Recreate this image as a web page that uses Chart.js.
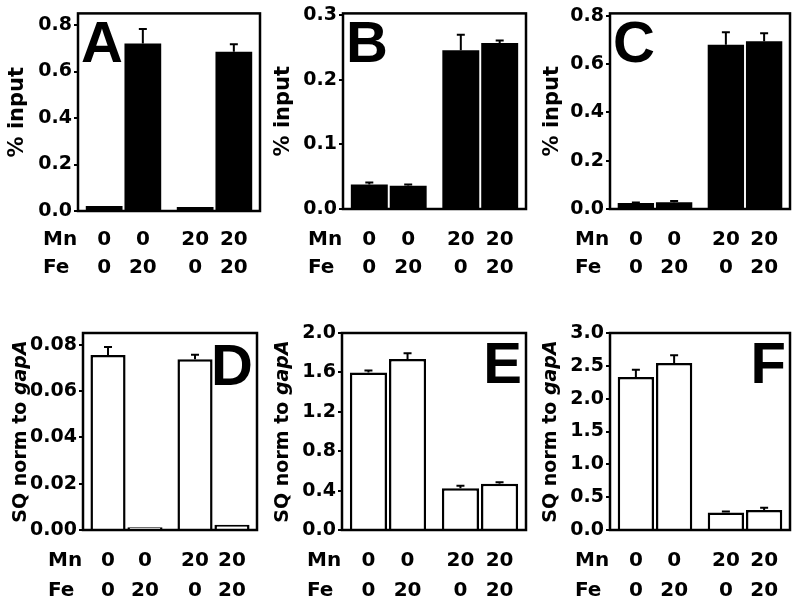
<!DOCTYPE html>
<html>
<head>
<meta charset="utf-8">
<script src="https://cdn.jsdelivr.net/npm/chart.js@4.4.0/dist/chart.umd.min.js"></script>
<style>
  body { margin: 0; background: #fff; width: 800px; height: 603px; position: relative; overflow: hidden; }
  canvas { position: absolute; }
</style>
</head>
<body>
<canvas id="chartA" width="266" height="300" style="left:0;top:0"></canvas>
<canvas id="chartB" width="266" height="300" style="left:266px;top:0"></canvas>
<canvas id="chartC" width="268" height="300" style="left:532px;top:0"></canvas>
<canvas id="chartD" width="266" height="303" style="left:0;top:300px"></canvas>
<canvas id="chartE" width="266" height="303" style="left:266px;top:300px"></canvas>
<canvas id="chartF" width="268" height="303" style="left:532px;top:300px"></canvas>
<script>
// x categories are the Mn levels, one dataset per Fe level
const mnGroups = ['0', '20'];
const feSeries = ['0', '20'];

// bar order: Mn0/Fe0, Mn0/Fe20, Mn20/Fe0, Mn20/Fe20
const valuesA = [0.022, 0.720, 0.017, 0.685];
const errorsA = [0.000, 0.063, 0.000, 0.032];
const valuesB = [0.038, 0.036, 0.246, 0.257];
const errorsB = [0.003, 0.002, 0.024, 0.004];
const valuesC = [0.025, 0.028, 0.680, 0.695];
const errorsC = [0.002, 0.005, 0.052, 0.033];
const valuesD = [0.0755, 0.0012, 0.0737, 0.0023];
const errorsD = [0.0035, 0.0000, 0.0019, 0.0000];
const valuesE = [1.60, 1.735, 0.425, 0.470];
const errorsE = [0.02, 0.060, 0.025, 0.015];
const valuesF = [2.33, 2.545, 0.265, 0.305];
const errorsF = [0.11, 0.115, 0.015, 0.035];

const ticksA = [0, 0.2, 0.4, 0.6, 0.8];
const ticksB = [0, 0.1, 0.2, 0.3];
const ticksC = [0, 0.2, 0.4, 0.6, 0.8];
const ticksD = [0, 0.02, 0.04, 0.06, 0.08];
const ticksE = [0, 0.4, 0.8, 1.2, 1.6, 2.0];
const ticksF = [0, 0.5, 1.0, 1.5, 2.0, 2.5, 3.0];

const FONT = '"DejaVu Sans", sans-serif';

const panelPlugin = {
    id: 'panel',
    afterDatasetsDraw(chart) {
        const ctx = chart.ctx;
        const area = chart.chartArea;
        const y = chart.scales.y;

        // error bars (upper half only)
        ctx.save();
        ctx.strokeStyle = '#000';
        ctx.lineWidth = 2;
        chart.data.datasets.forEach((ds, d) => {
            chart.getDatasetMeta(d).data.forEach((bar, i) => {
                const err = ds.errors[i];
                if (!err) return;
                const yTop = y.getPixelForValue(ds.data[i] + err);
                ctx.beginPath();
                ctx.moveTo(bar.x, bar.y);
                ctx.lineTo(bar.x, yTop);
                ctx.moveTo(bar.x - 4, yTop);
                ctx.lineTo(bar.x + 4, yTop);
                ctx.stroke();
            });
        });

        // frame
        ctx.lineWidth = 2.5;
        ctx.strokeRect(area.left, area.top, area.right - area.left, area.bottom - area.top);
        ctx.restore();
    },
    afterDraw(chart) {
        const p = chart.options.plugins.panel;
        const ctx = chart.ctx;
        const area = chart.chartArea;
        ctx.save();
        ctx.fillStyle = '#000';

        // panel letter
        ctx.font = 'bold 58px "Liberation Sans", Arial, sans-serif';
        ctx.textBaseline = 'alphabetic';
        if (p.letterRight) {
            ctx.textAlign = 'right';
            ctx.fillText(p.letter, area.right - 4, area.top + p.letterDrop);
        } else {
            ctx.textAlign = 'left';
            ctx.fillText(p.letter, area.left + 3, area.top + p.letterDrop);
        }

        // y title, possibly with an italic part
        ctx.save();
        ctx.translate(area.left - p.titleOffset, (area.top + area.bottom) / 2);
        ctx.rotate(-Math.PI / 2);
        ctx.textAlign = 'left';
        let total = 0;
        p.title.forEach(seg => {
            ctx.font = (seg.italic ? 'italic ' : '') + 'bold ' + p.titleSize + 'px ' + FONT;
            total += ctx.measureText(seg.text).width;
        });
        let x = -total / 2;
        p.title.forEach(seg => {
            ctx.font = (seg.italic ? 'italic ' : '') + 'bold ' + p.titleSize + 'px ' + FONT;
            ctx.fillText(seg.text, x, 0);
            x += ctx.measureText(seg.text).width;
        });
        ctx.restore();

        // Mn / Fe rows under the bars
        ctx.font = 'bold 20px ' + FONT;
        ctx.textAlign = 'left';
        ctx.fillText('Mn', area.left - 35, area.bottom + p.rows[0]);
        ctx.fillText('Fe', area.left - 35, area.bottom + p.rows[1]);
        ctx.textAlign = 'center';
        chart.data.datasets.forEach((ds, d) => {
            chart.getDatasetMeta(d).data.forEach((bar, i) => {
                ctx.fillText(mnGroups[i], bar.x, area.bottom + p.rows[0]);
                ctx.fillText(feSeries[d], bar.x, area.bottom + p.rows[1]);
            });
        });
        ctx.restore();
    }
};

function makePanel(id, values, errors, tickValues, yMax, decimals, white, panel, box) {
    const datasets = feSeries.map((fe, d) => ({
        label: 'Fe ' + fe,
        data: mnGroups.map((mn, i) => values[i * 2 + d]),
        errors: mnGroups.map((mn, i) => errors[i * 2 + d]),
        backgroundColor: white ? '#fff' : '#000',
        borderColor: '#000',
        borderWidth: white ? 2.5 : 0,
        categoryPercentage: 0.85,
        barPercentage: 0.95,
    }));

    new Chart(document.getElementById(id), {
        type: 'bar',
        data: { labels: mnGroups, datasets: datasets },
        options: {
            responsive: false,
            animation: false,
            layout: { padding: { left: 0, top: box.top, right: box.right, bottom: 0 } },
            plugins: {
                legend: { display: false },
                tooltip: { enabled: false },
                panel: panel,
            },
            scales: {
                x: {
                    grid: { display: false },
                    border: { display: false },
                    ticks: { display: false },
                    afterFit: s => { s.height = box.bottom; },
                },
                y: {
                    min: 0,
                    max: yMax,
                    afterBuildTicks: s => { s.ticks = tickValues.map(v => ({ value: v })); },
                    ticks: {
                        color: '#000',
                        padding: 2,
                        font: { family: FONT, size: 19, weight: 'bold' },
                        callback: v => Number(v).toFixed(decimals),
                    },
                    grid: {
                        display: true,
                        drawOnChartArea: false,
                        drawTicks: true,
                        tickLength: 4,
                        lineWidth: 2,
                        color: '#000',
                    },
                    border: { display: false },
                    afterFit: s => { s.width = box.left; },
                },
            },
        },
        plugins: [panelPlugin],
    });
}

const inputTitle = [{ text: '% input' }];
const sqTitle = [{ text: 'SQ norm to ' }, { text: 'gapA', italic: true }];

makePanel('chartA', valuesA, errorsA, ticksA, 0.85, 1, false,
    { letter: 'A', letterRight: false, letterDrop: 49, title: inputTitle, titleSize: 21, titleOffset: 55, rows: [34, 62] },
    { left: 78, top: 13, right: 6, bottom: 89 });
makePanel('chartB', valuesB, errorsB, ticksB, 0.303, 1, false,
    { letter: 'B', letterRight: false, letterDrop: 49, title: inputTitle, titleSize: 21, titleOffset: 54, rows: [36, 64] },
    { left: 77, top: 13, right: 6, bottom: 91 });
makePanel('chartC', valuesC, errorsC, ticksC, 0.81, 1, false,
    { letter: 'C', letterRight: false, letterDrop: 49, title: inputTitle, titleSize: 21, titleOffset: 52, rows: [36, 64] },
    { left: 78, top: 13, right: 10, bottom: 91 });
makePanel('chartD', valuesD, errorsD, ticksD, 0.085, 2, true,
    { letter: 'D', letterRight: true, letterDrop: 52, title: sqTitle, titleSize: 19, titleOffset: 57, rows: [36, 66] },
    { left: 83, top: 33, right: 9, bottom: 73 });
makePanel('chartE', valuesE, errorsE, ticksE, 2.0, 1, true,
    { letter: 'E', letterRight: true, letterDrop: 50, title: sqTitle, titleSize: 19, titleOffset: 54, rows: [36, 66] },
    { left: 76, top: 33, right: 6, bottom: 73 });
makePanel('chartF', valuesF, errorsF, ticksF, 3.0, 1, true,
    { letter: 'F', letterRight: true, letterDrop: 50, title: sqTitle, titleSize: 19, titleOffset: 54, rows: [36, 66] },
    { left: 78, top: 33, right: 10, bottom: 73 });
</script>
</body>
</html>
